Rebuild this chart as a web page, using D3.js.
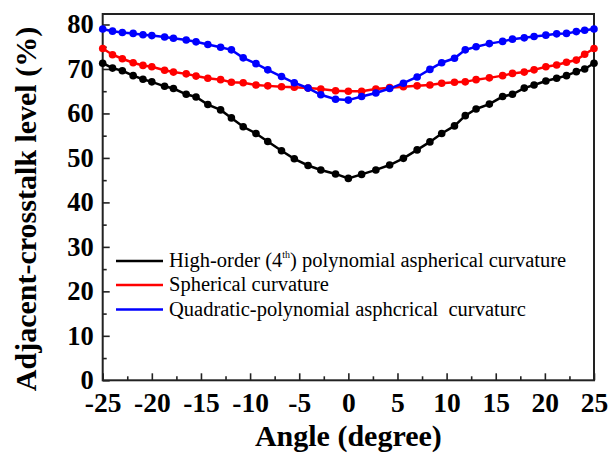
<!DOCTYPE html>
<html><head><meta charset="utf-8">
<script src="https://cdn.jsdelivr.net/npm/d3@7"></script>
<style>body{margin:0;background:#fff} text{font-family:'Liberation Serif','Times New Roman',serif}</style>
</head><body>
<svg id="c" width="609" height="455"></svg>
<script>
// ---- data ----
const angles = [-25,-24,-23,-21.9,-20.9,-20,-18.7,-17.8,-16.5,-15.5,-14.3,-13,-11.9,-10.7,-9.4,-8.2,-6.8,-5.5,-4.1,-2.8,-1.3,0,
  1.35,2.8,4.2,5.6,7,8.3,9.5,10.8,11.9,13,14.35,15.7,16.7,17.9,18.9,20.1,21.2,22.2,23.2,24.05,25];
const highOrder = [71.3,70.2,69.6,68.5,67.7,67.1,66.1,65.6,64.3,63.7,62.0,60.8,59.0,57.0,55.5,53.7,51.6,49.8,48.3,47.3,46.4,45.4,
  46.3,47.3,48.4,49.9,51.8,53.6,55.5,57.2,59.5,61.0,62.1,63.8,64.3,65.7,66.4,67.3,67.9,68.5,69.4,70.0,71.3];
const spherical = [74.6,73.2,72.3,71.4,70.8,70.5,69.7,69.3,68.9,68.4,67.9,67.6,67.0,66.9,66.4,66.2,66.0,65.9,65.7,65.5,65.1,65.0,
  65.0,65.5,65.8,66.0,66.2,66.4,66.8,67.0,67.1,67.6,68.0,68.5,69.0,69.3,69.8,70.5,70.9,71.5,72.0,73.3,74.6];
const quadratic = [79.0,78.5,78.2,78.0,77.7,77.5,77.2,76.9,76.5,76.1,75.5,74.9,74.3,72.5,71.2,69.8,68.3,66.9,65.7,64.2,63.2,63.0,
  63.8,64.6,65.6,66.8,68.2,69.9,71.4,72.4,74.3,75.0,75.7,76.2,76.7,77.0,77.3,77.6,77.9,78.0,78.4,78.7,79.0];
const seriesColors = ["#000000", "#ff0000", "#0000ff"];
const xMajorTicks = [-25,-20,-15,-10,-5,0,5,10,15,20,25];
const xMinorTicks = [-22.5,-17.5,-12.5,-7.5,-2.5,2.5,7.5,12.5,17.5,22.5];
const yMajorTicks = [0,10,20,30,40,50,60,70,80];
const yMinorTicks = [5,15,25,35,45,55,65,75];
const xTitle = "Angle (degree)";
const yTitle = "Adjacent-crosstalk level (%)";

// ---- chart ----
const svg = d3.select("#c");
const L = 102.7, R = 594, T = 14, B = 380.3;
const x = d3.scaleLinear().domain([-25, 25]).range([L, R]);
const y = d3.scaleLinear().domain([0, 82.36]).range([B, T]);
const serif = "'Liberation Serif','Times New Roman',serif";
const fmt = d => String(d);

const series = [
  {values: highOrder, color: seriesColors[0]},
  {values: spherical, color: seriesColors[1]},
  {values: quadratic, color: seriesColors[2]}
];

// axes
const gx = svg.append("g").attr("transform", `translate(0,${B})`)
  .call(d3.axisBottom(x).tickValues(xMajorTicks).tickSize(-7).tickPadding(12).tickFormat(fmt));
const gxm = svg.append("g").attr("transform", `translate(0,${B})`)
  .call(d3.axisBottom(x).tickValues(xMinorTicks).tickSize(-4).tickFormat(""));
const gy = svg.append("g").attr("transform", `translate(${L},0)`)
  .call(d3.axisLeft(y).tickValues(yMajorTicks).tickSize(-7).tickPadding(9).tickFormat(fmt));
const gym = svg.append("g").attr("transform", `translate(${L},0)`)
  .call(d3.axisLeft(y).tickValues(yMinorTicks).tickSize(-4).tickFormat(""));
[[gx, 27.5], [gxm, 27.5], [gy, 26.5], [gym, 26.5]].forEach(([g, fs]) => {
  g.attr("font-family", serif).attr("font-size", fs).attr("font-weight", "bold");
  g.select(".domain").remove();
  g.selectAll(".tick line").attr("stroke", "#222").attr("stroke-width", 1.6);
  g.selectAll("text").style("font-family", serif).style("font-weight", "bold")
    .style("font-size", fs + "px").attr("fill", "#000");
});

// frame
svg.append("rect").attr("x", L).attr("y", T).attr("width", R - L).attr("height", B - T)
  .attr("fill", "none").attr("stroke", "#222").attr("stroke-width", 2);

// series
const line = d3.line().x((d, i) => x(angles[i])).y(d => y(d));
series.forEach(s => {
  svg.append("path").datum(s.values).attr("d", line)
    .attr("fill", "none").attr("stroke", s.color).attr("stroke-width", 2.5);
  svg.append("g").selectAll("circle").data(s.values).join("circle")
    .attr("cx", (d, i) => x(angles[i])).attr("cy", d => y(d)).attr("r", 3.8)
    .attr("fill", s.color);
});

// legend
const legendRows = [
  {y: 261, color: seriesColors[0]},
  {y: 285, color: seriesColors[1]},
  {y: 309.5, color: seriesColors[2]}
];
legendRows.forEach(r => {
  svg.append("line").attr("x1", 116).attr("x2", 163).attr("y1", r.y).attr("y2", r.y)
    .attr("stroke", r.color).attr("stroke-width", 2.5);
});
const legFont = 20.5;
const t1 = svg.append("text").attr("x", 169).attr("y", legendRows[0].y + 6)
  .attr("font-family", serif).attr("font-size", legFont).attr("fill", "#000");
t1.append("tspan").text("High-order (4");
t1.append("tspan").attr("font-size", 10).attr("dy", -9).text("th");
t1.append("tspan").attr("dy", 9).text(") polynomial aspherical curvature");
svg.append("text").attr("x", 169).attr("y", legendRows[1].y + 6)
  .attr("font-family", serif).attr("font-size", legFont).attr("fill", "#000")
  .text("Spherical curvature");
svg.append("text").attr("x", 169).attr("y", legendRows[2].y + 6)
  .attr("font-family", serif).attr("font-size", legFont).attr("fill", "#000")
  .attr("xml:space", "preserve").style("white-space", "pre")
  .text("Quadratic-polynomial asphcrical  curvaturc");

// titles
svg.append("text").attr("x", (L + R) / 2).attr("y", 446).attr("text-anchor", "middle")
  .attr("font-family", serif).attr("font-weight", "bold").attr("font-size", 30)
  .text(xTitle);
svg.append("text").attr("transform", "translate(36,209) rotate(-90)").attr("text-anchor", "middle")
  .attr("font-family", serif).attr("font-weight", "bold").attr("font-size", 30)
  .text(yTitle);
</script>
</body></html>
